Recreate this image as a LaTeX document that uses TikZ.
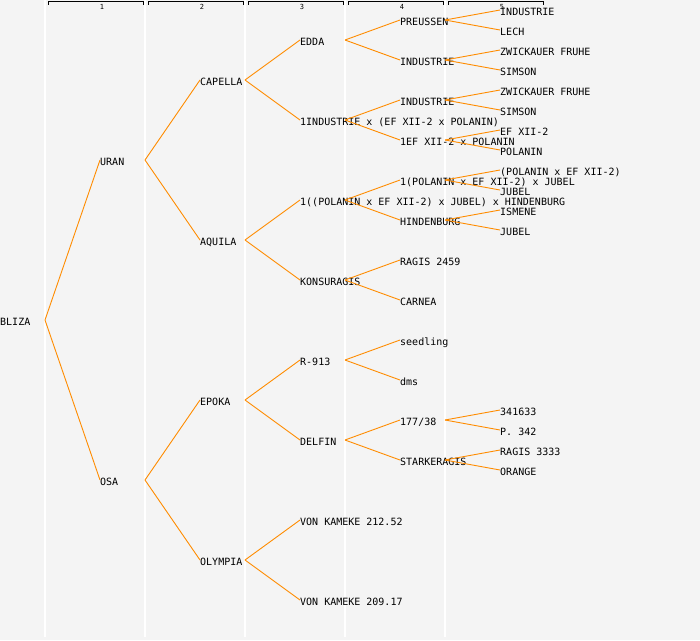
\documentclass[tikz,border=0pt]{standalone}
\usepackage{fontspec}
\setmonofont{DejaVu Sans Mono}
\definecolor{darkorange}{HTML}{FF8C00}
\definecolor{panel}{HTML}{F4F4F4}

\begin{document}
\begin{tikzpicture}[x=1pt, y=-1pt,
        horse/.style={anchor=west, inner sep=0pt, text height=11pt, text depth=0pt, font=\ttfamily\fontsize{10}{12}\selectfont},
        edge/.style={draw=darkorange, line width=0.9pt},
        gen/.style={inner sep=0pt, font=\ttfamily\fontsize{7}{8}\selectfont}]
        \useasboundingbox (0,0) rectangle (700,640);
        \fill[panel] (0,0) rectangle (700,640);

        % Columns
        \foreach \k in {1,...,5} {
            \draw[white, line width=1.5pt] (100*\k-55,0) -- (100*\k-55,637);
            \draw[black, line width=0.8pt] (100*\k-52,4.5) -- (100*\k-52,1.5) -- (100*\k+43,1.5) -- (100*\k+43,4.5);
            \node[gen] (gen\k) at (100*\k+2,7) {\k};
        }

        % Nodes
        \node[horse] (bliza) at (0,320) {BLIZA};

        \node[horse] (uran) at (100,160) {URAN};
        \node[horse] (osa) at (100,480) {OSA};

        \node[horse] (capella) at (200,80) {CAPELLA};
        \node[horse] (aquila) at (200,240) {AQUILA};
        \node[horse] (epoka) at (200,400) {EPOKA};
        \node[horse] (olympia) at (200,560) {OLYMPIA};

        \node[horse] (edda) at (300,40) {EDDA};
        \node[horse] (indxpol) at (300,120) {1INDUSTRIE x (EF XII-2 x POLANIN)};
        \node[horse] (polhind) at (300,200) {1((POLANIN x EF XII-2) x JUBEL) x HINDENBURG};
        \node[horse] (konsuragis) at (300,280) {KONSURAGIS};
        \node[horse] (r913) at (300,360) {R-913};
        \node[horse] (delfin) at (300,440) {DELFIN};
        \node[horse] (kamekeA) at (300,520) {VON KAMEKE 212.52};
        \node[horse] (kamekeB) at (300,600) {VON KAMEKE 209.17};

        \node[horse] (preussen) at (400,20) {PREUSSEN};
        \node[horse] (industrieA) at (400,60) {INDUSTRIE};
        \node[horse] (industrieB) at (400,100) {INDUSTRIE};
        \node[horse] (efpol) at (400,140) {1EF XII-2 x POLANIN};
        \node[horse] (poljubel) at (400,180) {1(POLANIN x EF XII-2) x JUBEL};
        \node[horse] (hindenburg) at (400,220) {HINDENBURG};
        \node[horse] (ragisA) at (400,260) {RAGIS 2459};
        \node[horse] (carnea) at (400,300) {CARNEA};
        \node[horse] (seedling) at (400,340) {seedling};
        \node[horse] (dms) at (400,380) {dms};
        \node[horse] (n17738) at (400,420) {177/38};
        \node[horse] (starkeragis) at (400,460) {STARKERAGIS};

        \node[horse] (industrieC) at (500,10) {INDUSTRIE};
        \node[horse] (lech) at (500,30) {LECH};
        \node[horse] (zwickauerA) at (500,50) {ZWICKAUER FRUHE};
        \node[horse] (simsonA) at (500,70) {SIMSON};
        \node[horse] (zwickauerB) at (500,90) {ZWICKAUER FRUHE};
        \node[horse] (simsonB) at (500,110) {SIMSON};
        \node[horse] (efxii) at (500,130) {EF XII-2};
        \node[horse] (polanin) at (500,150) {POLANIN};
        \node[horse] (polef) at (500,170) {(POLANIN x EF XII-2)};
        \node[horse] (jubelA) at (500,190) {JUBEL};
        \node[horse] (ismene) at (500,210) {ISMENE};
        \node[horse] (jubelB) at (500,230) {JUBEL};
        \node[horse] (n341633) at (500,410) {341633};
        \node[horse] (p342) at (500,430) {P. 342};
        \node[horse] (ragisB) at (500,450) {RAGIS 3333};
        \node[horse] (orangeh) at (500,470) {ORANGE};

        % Edges
        \foreach \p/\c in {bliza/uran, bliza/osa,
                uran/capella, uran/aquila, osa/epoka, osa/olympia,
                capella/edda, capella/indxpol, aquila/polhind, aquila/konsuragis,
                epoka/r913, epoka/delfin, olympia/kamekeA, olympia/kamekeB,
                edda/preussen, edda/industrieA, indxpol/industrieB, indxpol/efpol,
                polhind/poljubel, polhind/hindenburg, konsuragis/ragisA, konsuragis/carnea,
                r913/seedling, r913/dms, delfin/n17738, delfin/starkeragis,
                preussen/industrieC, preussen/lech, industrieA/zwickauerA, industrieA/simsonA,
                industrieB/zwickauerB, industrieB/simsonB, efpol/efxii, efpol/polanin,
                poljubel/polef, poljubel/jubelA, hindenburg/ismene, hindenburg/jubelB,
                n17738/n341633, n17738/p342, starkeragis/ragisB, starkeragis/orangeh}
            \draw[edge] ([xshift=45pt]\p.west) -- (\c.west);
    \end{tikzpicture}
\end{document}
